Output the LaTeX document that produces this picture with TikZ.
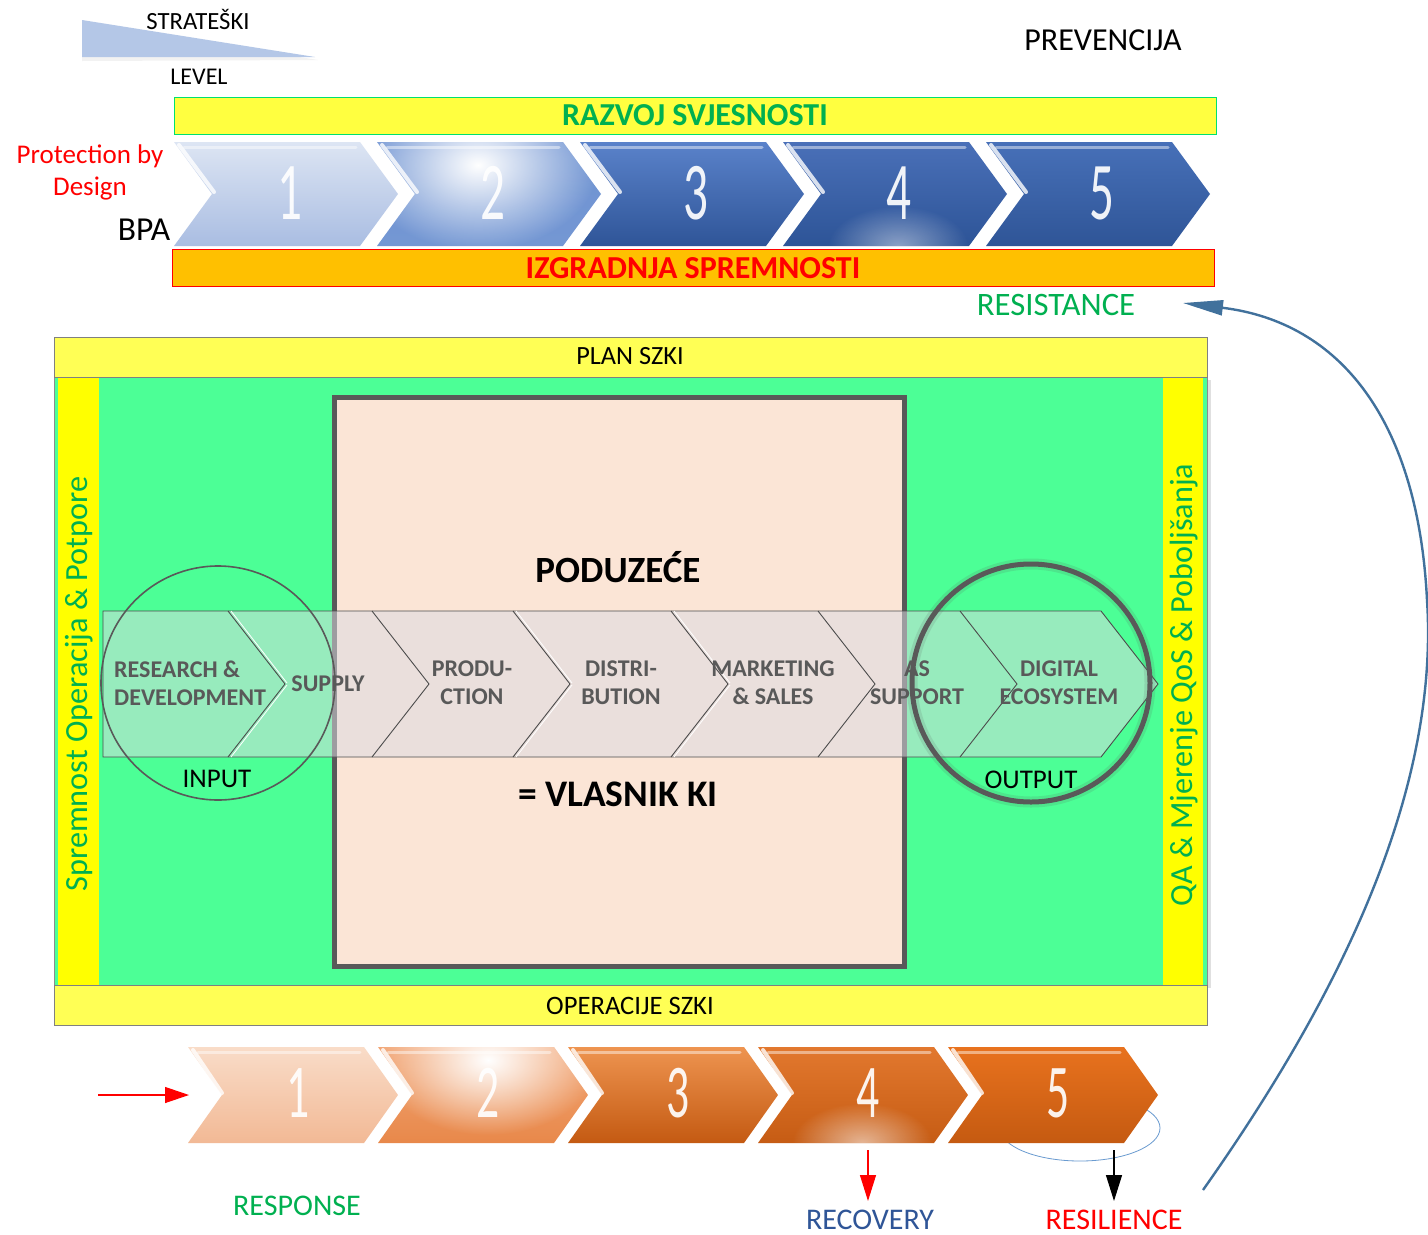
\documentclass[tikz,border=0pt]{standalone}
\usepackage{fontspec}
\setmainfont{Carlito}
\usetikzlibrary{arrows.meta,fadings}

% palette
\definecolor{barYellow}{HTML}{FFFF40}
\definecolor{barGreenLine}{HTML}{00E070}
\definecolor{txtGreen}{HTML}{00B050}
\definecolor{barOrange}{HTML}{FFC000}
\definecolor{zoneGreen}{HTML}{4CFF96}
\definecolor{stripYellow}{HTML}{FFFF00}
\definecolor{planYellow}{HTML}{FFFF55}
\definecolor{peach}{HTML}{FBE5D6}
\definecolor{darkGrey}{HTML}{595959}
\definecolor{steel}{HTML}{41719C}
\definecolor{recBlue}{HTML}{2F5597}
\definecolor{wedgeBlue}{HTML}{B4C7E7}
\definecolor{bandTint}{HTML}{DCDAE2}
\definecolor{ringBlue}{HTML}{6A9BD0}
% upper (blue) chevrons
\definecolor{tcAt}{HTML}{DDE5F3}\definecolor{tcAb}{HTML}{A9BDE2}
\definecolor{tcBt}{HTML}{6F93D2}\definecolor{tcBb}{HTML}{7497D3}
\definecolor{tcCt}{HTML}{5A82CA}\definecolor{tcCb}{HTML}{2F5598}
\definecolor{tcDt}{HTML}{4A70B8}\definecolor{tcDb}{HTML}{2D5497}
\definecolor{tcEt}{HTML}{4770B8}\definecolor{tcEb}{HTML}{2F5597}
% lower (orange) chevrons
\definecolor{bcAt}{HTML}{F9DCC8}\definecolor{bcAb}{HTML}{F2B995}
\definecolor{bcBt}{HTML}{F2A777}\definecolor{bcBb}{HTML}{E8884A}
\definecolor{bcCt}{HTML}{EE9450}\definecolor{bcCb}{HTML}{C45A12}
\definecolor{bcDt}{HTML}{E2782E}\definecolor{bcDb}{HTML}{C65C14}
\definecolor{bcEt}{HTML}{E8721E}\definecolor{bcEb}{HTML}{C55A11}

\tikzfading[name=glowfade, inner color=transparent!0, outer color=transparent!100]

\begin{document}
\begin{tikzpicture}[x=1pt,y=-1pt,
  lbl/.style={inner sep=0pt, text=#1},
  lbl/.default=black,
  bevel/.style={white, line width=4pt, opacity=0.8, line cap=round},
  sheen/.style={white, line width=3pt, opacity=0.45, line cap=round},
  numtop/.style={inner sep=0pt, text=white, font=\fontsize{82}{82}\selectfont},
  numbot/.style={inner sep=0pt, text=white, font=\fontsize{76}{76}\selectfont},
  bandline/.style={draw=darkGrey!85!black, line width=0.9pt},
  bandtxt/.style={inner sep=0pt, text=darkGrey, align=center,
                  font=\fontsize{24}{28}\selectfont\bfseries},
  yellowbar/.style={fill=planYellow, draw=black!50, line width=0.8pt},
  loopArrow/.style={draw=steel, line width=2.4pt,
                    -{Triangle[length=40pt,width=15pt]}},
]
\useasboundingbox (0,0) rectangle (1428,1235);
\fill[white] (0,0) rectangle (1428,1235);

% ---------- strategic level wedge ----------
\fill[black, opacity=0.05] (82,22) -- (318,60) -- (82,61) -- cycle;
\fill[wedgeBlue] (82,20) -- (315,57) -- (82,57) -- cycle;
\node[lbl, font=\fontsize{24.7}{28}\selectfont] (strat) at (198,19) {STRATEŠKI};
\node[lbl, font=\fontsize{24}{28}\selectfont] (level) at (199,77) {LEVEL};
\node[lbl, font=\fontsize{32}{36}\selectfont] (prev) at (1103,40) {PREVENCIJA};

% ---------- awareness bar ----------
\node[draw=barGreenLine, fill=barYellow, line width=1pt, minimum width=1042pt,
      minimum height=37pt, inner sep=0pt, anchor=north west] (razvoj) at (174,97) {};
\node[lbl=txtGreen, font=\fontsize{32}{36}\selectfont\bfseries] (razvojTxt)
      at (695,115) {RAZVOJ SVJESNOSTI};

% ---------- upper chevrons ----------
\foreach \i/\ct/\cb in {0/tcAt/tcAb,1/tcBt/tcBb,2/tcCt/tcCb,3/tcDt/tcDb,4/tcEt/tcEb}{
  \pgfmathsetmacro\xa{174+203*\i}
  \shade[top color=\ct, bottom color=\cb]
    (\xa,142) -- ++(186,0) -- ++(38,52) -- ++(-38,52) -- ++(-186,0) -- ++(38,-52) -- cycle;
  \draw[bevel] (\xa+5,145) -- (\xa+40,192);
  \draw[sheen] (\xa+10,147) -- (\xa+182,147);
}
% glows on the second and fourth upper chevrons
\begin{scope}
  \clip (377,142) -- ++(186,0) -- ++(38,52) -- ++(-38,52) -- ++(-186,0) -- ++(38,-52) -- cycle;
  \fill[white, path fading=glowfade] (478,165) ellipse [x radius=120pt, y radius=85pt];
\end{scope}
\begin{scope}
  \clip (783,142) -- ++(186,0) -- ++(38,52) -- ++(-38,52) -- ++(-186,0) -- ++(38,-52) -- cycle;
  \fill[white, opacity=0.45, path fading=glowfade] (898,246) ellipse [x radius=70pt, y radius=40pt];
\end{scope}
\foreach \i/\n in {0/1,1/2,2/3,3/4,4/5}{
  \pgfmathsetmacro\xa{174+203*\i}
  \node[numtop, opacity=0.92] (top\n) at (\xa+116,193) {\scalebox{0.6}[1]{\n}};
}

% ---------- readiness bar ----------
\node[draw=red, fill=barOrange, line width=1pt, minimum width=1042pt,
      minimum height=37pt, inner sep=0pt, anchor=north west] (izgr) at (172,249) {};
\node[lbl=red, font=\fontsize{32}{36}\selectfont\bfseries] (izgrTxt)
      at (693,268) {IZGRADNJA SPREMNOSTI};

\node[lbl=red, align=center, font=\fontsize{27}{32}\selectfont] (pbd) at (90,172) {Protection by\\Design};
\node[lbl, font=\fontsize{33.5}{38}\selectfont] (bpa) at (144,230) {BPA};
\node[lbl=txtGreen, font=\fontsize{32.7}{38}\selectfont] (resist) at (1056,305) {RESISTANCE};

% ---------- central frame ----------
\fill[black, opacity=0.12] (1207,380) rectangle (1211,988);
\node[fill=zoneGreen, draw=black!45, line width=0.8pt, minimum width=1153pt,
      minimum height=608pt, inner sep=0pt, anchor=north west] (zone) at (54,377) {};
\fill[stripYellow] (58,378) rectangle (99,985);
\fill[stripYellow] (1163,378) rectangle (1203,985);
\node[yellowbar, minimum width=1153pt, minimum height=40pt, inner sep=0pt,
      anchor=north west] (plan) at (54,337) {};
\node[lbl, font=\fontsize{26.3}{30}\selectfont] (planTxt) at (630,356) {PLAN SZKI};
\node[yellowbar, minimum width=1153pt, minimum height=40pt, inner sep=0pt,
      anchor=north west] (oper) at (54,985) {};
\node[lbl, font=\fontsize{26.6}{30}\selectfont] (operTxt) at (630,1006) {OPERACIJE SZKI};

\node[lbl=txtGreen, rotate=90, font=\fontsize{32.3}{36}\selectfont] (leftStrip)
      at (79,684) {Spremnost Operacija \& Potpore};
\node[lbl=txtGreen, rotate=90, font=\fontsize{32.2}{36}\selectfont] (rightStrip)
      at (1184,685) {QA \& Mjerenje QoS \& Poboljšanja};

% enterprise box
\draw[line width=5pt, draw=darkGrey, fill=peach] (334,397) rectangle (904,966);
\node[lbl, anchor=base, font=\fontsize{37}{40}\selectfont\bfseries] (firm) at (618,582) {PODUZEĆE};
\node[lbl, anchor=base, font=\fontsize{37.5}{40}\selectfont\bfseries] (owner) at (618,806) {= VLASNIK KI};

% value chain band
\fill[bandTint, opacity=0.52] (103,611) -- (1101,611) -- (1158,684) -- (1101,757) -- (103,757) -- cycle;
\draw[bandline] (103,611) -- (1101,611) -- (1158,684) -- (1101,757) -- (103,757) -- cycle;
\foreach \xs in {228,372,513,671,818,960}{
  \draw[bandline] (\xs,611) -- (\xs+57,684) -- (\xs,757);
}
\foreach \xs in {228,513,671}{
  \draw[white, line width=0.8pt] (\xs+3,611) -- (\xs+59,683);
  \draw[white, line width=0.8pt] (\xs+3,757) -- (\xs+59,685);
}
\node[bandtxt, align=left, anchor=west] (rd) at (114,683) {RESEARCH \&\\DEVELOPMENT};
\node[bandtxt] (supply) at (328,684) {SUPPLY};
\node[bandtxt] (prod) at (472,683) {PRODU-\\CTION};
\node[bandtxt] (distr) at (621,683) {DISTRI-\\BUTION};
\node[bandtxt] (mkt) at (773,683) {MARKETING\\\& SALES};
\node[bandtxt] (as) at (917,683) {AS\\SUPPORT};
\node[bandtxt] (digi) at (1059,683) {DIGITAL\\ECOSYSTEM};

% input / output circles
\draw[darkGrey, line width=1.6pt] (218,683) circle [radius=117pt];
\draw[darkGrey, opacity=0.15, line width=11pt] (1031,683) circle [radius=119pt];
\draw[darkGrey, line width=5pt] (1031,683) circle [radius=119pt];
\node[lbl, font=\fontsize{27}{30}\selectfont] (inTxt) at (217,779) {INPUT};
\node[lbl, font=\fontsize{27}{30}\selectfont] (outTxt) at (1031,780) {OUTPUT};

% ---------- lower chevrons ----------
\draw[ringBlue, line width=0.8pt] (1080,1128) ellipse [x radius=80pt, y radius=33pt];
\foreach \i/\ct/\cb in {0/bcAt/bcAb,1/bcBt/bcBb,2/bcCt/bcCb,3/bcDt/bcDb,4/bcEt/bcEb}{
  \pgfmathsetmacro\xa{188+190*\i}
  \shade[top color=\ct, bottom color=\cb]
    (\xa,1047) -- ++(176,0) -- ++(34,48) -- ++(-34,48) -- ++(-176,0) -- ++(34,-48) -- cycle;
  \draw[bevel] (\xa+5,1050) -- (\xa+34,1093);
  \draw[sheen] (\xa+10,1052) -- (\xa+172,1052);
}
\begin{scope}
  \clip (378,1047) -- ++(176,0) -- ++(34,48) -- ++(-34,48) -- ++(-176,0) -- ++(34,-48) -- cycle;
  \fill[white, path fading=glowfade] (488,1060) ellipse [x radius=110pt, y radius=75pt];
\end{scope}
\begin{scope}
  \clip (758,1047) -- ++(176,0) -- ++(34,48) -- ++(-34,48) -- ++(-176,0) -- ++(34,-48) -- cycle;
  \fill[white, opacity=0.55, path fading=glowfade] (862,1143) ellipse [x radius=70pt, y radius=40pt];
\end{scope}
\foreach \i/\n in {0/1,1/2,2/3,3/4,4/5}{
  \pgfmathsetmacro\xa{188+190*\i}
  \node[numbot, opacity=0.92] (bot\n) at (\xa+110,1093) {\scalebox{0.6}[1]{\n}};
}

% ---------- lower labels and arrows ----------
\node[lbl=txtGreen, font=\fontsize{30}{34}\selectfont] (resp) at (297,1206) {RESPONSE};
\node[lbl=recBlue, font=\fontsize{30}{34}\selectfont] (recov) at (870,1220) {RECOVERY};
\node[lbl=red, font=\fontsize{30}{34}\selectfont] (resil) at (1114,1220) {RESILIENCE};

\coordinate (inStart) at (98,1095);
\coordinate (inEnd) at (189,1095);
\draw[red, line width=1.2pt, -{Triangle[length=24pt,width=16pt]}] (inStart) -- (inEnd);
\coordinate (recStart) at (868,1150);
\coordinate (recEnd) at (868,1201);
\draw[red, line width=1.2pt, -{Triangle[length=26pt,width=16pt]}] (recStart) -- (recEnd);
\coordinate (resStart) at (1114,1150);
\coordinate (resEnd) at (1114,1201);
\draw[black, line width=1.2pt, -{Triangle[length=26pt,width=16pt]}] (resStart) -- (resEnd);

% feedback loop from resilience back to resistance
\coordinate (loopStart) at (1203,1190);
\coordinate (loopEnd) at (1183,303);
\draw[loopArrow] (loopStart) .. controls (1330,1010) and (1440,800) .. (1427,600)
      .. controls (1418,420) and (1340,322) .. (loopEnd);
\end{tikzpicture}
\end{document}
